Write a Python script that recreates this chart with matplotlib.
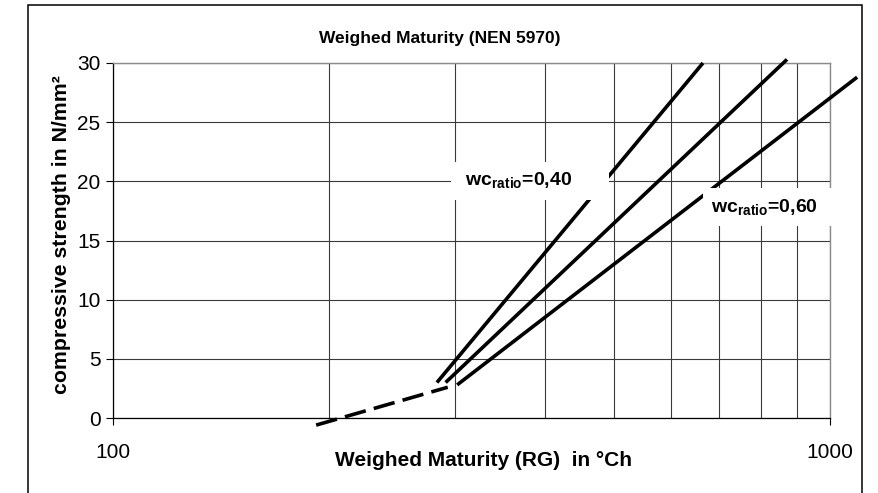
import matplotlib
matplotlib.use("Agg")
import matplotlib.pyplot as plt
from matplotlib.patches import Rectangle
from matplotlib.ticker import NullFormatter

plt.rcParams['font.family'] = ['Liberation Sans', 'DejaVu Sans']
plt.rcParams['mathtext.fontset'] = 'custom'
plt.rcParams['mathtext.rm'] = 'Liberation Sans'
plt.rcParams['mathtext.bf'] = 'Liberation Sans:bold'

# Data (x: weighed maturity in °Ch, y: N/mm²)
early_x = [192, 293]          # dashed early-age branch
early_y = [-0.6, 2.6]
wc040_x = [283, 665]          # wc ratio 0.40
wc040_y = [3.0, 30.0]
wc050_x = [291, 871]          # intermediate line
wc050_y = [3.0, 30.3]
wc060_x = [302, 1091]         # wc ratio 0.60
wc060_y = [2.8, 28.8]

major_x = [100, 1000]
minor_x = [200, 300, 400, 500, 600, 700, 800, 900]
y_ticks = [0, 5, 10, 15, 20, 25, 30]

W, H = 879, 493
fig = plt.figure(figsize=(W / 100, H / 100), dpi=100)
ax = fig.add_axes([113 / W, 1 - 418 / H, (830 - 113) / W, (418 - 63) / H])

ax.set_xscale('log')
ax.set_xlim(100, 1000)
ax.set_ylim(0, 30)

ax.set_xticks(major_x)
ax.set_xticklabels([str(v) for v in major_x])
ax.set_xticks(minor_x, minor=True)
ax.xaxis.set_minor_formatter(NullFormatter())
ax.set_yticks(y_ticks)
ax.tick_params(axis='x', which='minor', length=0)
ax.tick_params(axis='x', which='major', length=5, width=0.8, pad=13, labelsize=15)
ax.tick_params(axis='y', length=5, width=0.8, pad=4, labelsize=15)

grid_c = '#3a3a3a'
ax.grid(True, axis='x', which='both', color=grid_c, lw=0.8)
ax.grid(True, axis='y', which='major', color=grid_c, lw=0.8)
ax.set_axisbelow(True)

for s in ['top', 'right']:
    ax.spines[s].set_color('#8a8a8a')
    ax.spines[s].set_linewidth(1.0)
for s in ['left', 'bottom']:
    ax.spines[s].set_color('black')
    ax.spines[s].set_linewidth(0.9)

lw = 2.6
ax.plot(early_x, early_y, color='black', lw=lw, linestyle=(0, (6.0, 2.3)),
        solid_capstyle='butt', clip_on=False, zorder=3)
for xs, ys in [(wc040_x, wc040_y), (wc050_x, wc050_y), (wc060_x, wc060_y)]:
    ax.plot(xs, ys, color='black', lw=lw, solid_capstyle='butt',
            clip_on=False, zorder=3)

box = dict(boxstyle='square,pad=0.45', facecolor='white', edgecolor='none')
ax.text(305, 20.0, ' wc$_{\\mathbf{ratio}}$=0,40      ', fontsize=14,
        fontweight='bold', ha='left', va='center', bbox=box, zorder=4)
ax.text(683, 17.8, 'wc$_{\\mathbf{ratio}}$=0,60  ', fontsize=14,
        fontweight='bold', ha='left', va='center', bbox=box, zorder=4,
        clip_on=False)

fig.text(0.5, 1 - 38 / H, 'Weighed Maturity (NEN 5970)', fontsize=12.5,
         fontweight='bold', ha='center', va='center')
ax.set_xlabel('Weighed Maturity (RG)  in °Ch', fontsize=15, fontweight='bold')
ax.xaxis.set_label_coords((484 - 113) / (830 - 113), -(460 - 418) / (418 - 63))
ax.xaxis.label.set_va('center')
ax.set_ylabel('compressive strength in N/mm²', fontsize=15.3, fontweight='bold')
ax.yaxis.set_label_coords(-(113 - 62) / (830 - 113), 0.518)
ax.yaxis.label.set_va('center')

# outer chart border (runs off the bottom of the image)
fig.patches.append(Rectangle((28 / W, -0.1), (862 - 28) / W, 1 - 5 / H + 0.1,
                             transform=fig.transFigure, fill=False,
                             edgecolor='black', lw=1.1, clip_on=False))

fig.savefig('out.png', dpi=100)
